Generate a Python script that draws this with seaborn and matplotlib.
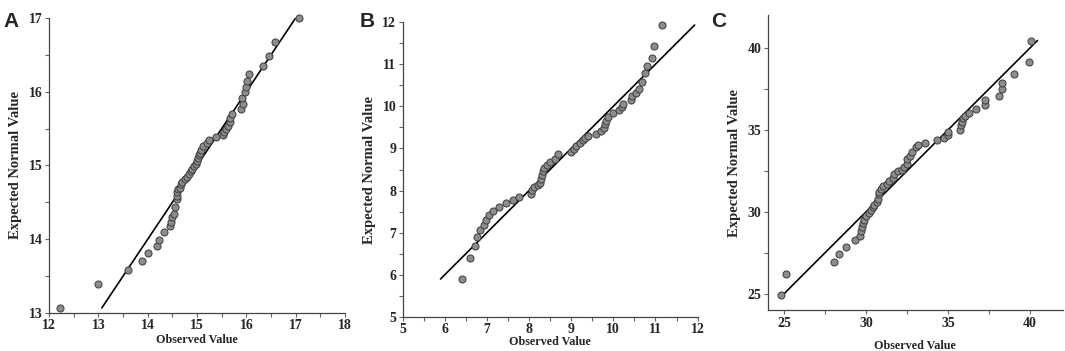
import numpy as np
import pandas as pd
import matplotlib
matplotlib.use('Agg')
import matplotlib.pyplot as plt
import seaborn as sns
from matplotlib.ticker import MultipleLocator

sns.set_style('ticks')
plt.rcParams['font.family'] = ['Liberation Serif', 'DejaVu Serif']

# Panel A
a_obs = [12.23, 13.00, 13.61, 13.88, 14.00, 14.19, 14.23, 14.34, 14.46, 14.48,
         14.49, 14.53, 14.56, 14.59, 14.59, 14.60, 14.61, 14.65, 14.67, 14.70,
         14.75, 14.79, 14.83, 14.87, 14.89, 14.94, 14.97, 14.99, 15.02, 15.05,
         15.06, 15.09, 15.13, 15.21, 15.25, 15.38, 15.52, 15.54, 15.58, 15.63,
         15.66, 15.67, 15.70, 15.90, 15.93, 15.92, 15.97, 16.00, 16.02, 16.06,
         16.34, 16.45, 16.58, 17.06]
a_exp = [13.07, 13.40, 13.58, 13.71, 13.82, 13.91, 13.99, 14.10, 14.18, 14.24,
         14.30, 14.34, 14.44, 14.54, 14.59, 14.64, 14.68, 14.70, 14.75, 14.78,
         14.82, 14.84, 14.88, 14.92, 14.95, 14.99, 15.02, 15.06, 15.10, 15.14,
         15.17, 15.21, 15.26, 15.30, 15.34, 15.38, 15.41, 15.46, 15.50, 15.53,
         15.59, 15.64, 15.70, 15.77, 15.84, 15.92, 15.99, 16.06, 16.14, 16.24,
         16.35, 16.48, 16.67, 17.00]
a_line = [13.07, 17.0]

# Panel B
b_obs = [6.41, 6.60, 6.72, 6.77, 6.84, 6.93, 6.99, 7.06, 7.14, 7.28,
         7.46, 7.61, 7.77, 8.05, 8.07, 8.13, 8.21, 8.25, 8.28, 8.31,
         8.34, 8.36, 8.43, 8.50, 8.62, 8.69, 8.99, 9.07, 9.11, 9.21,
         9.27, 9.32, 9.40, 9.59, 9.70, 9.79, 9.80, 9.83, 9.87, 10.00,
         10.13, 10.21, 10.24, 10.42, 10.44, 10.54, 10.62, 10.67, 10.76, 10.79,
         10.92, 10.96, 11.15]
b_exp = [5.91, 6.41, 6.68, 6.90, 7.06, 7.18, 7.31, 7.41, 7.51, 7.61,
         7.70, 7.78, 7.85, 7.92, 8.02, 8.08, 8.14, 8.19, 8.27, 8.36,
         8.47, 8.54, 8.60, 8.67, 8.76, 8.86, 8.91, 8.98, 9.07, 9.14,
         9.19, 9.25, 9.30, 9.35, 9.41, 9.48, 9.58, 9.66, 9.75, 9.84,
         9.91, 9.98, 10.06, 10.15, 10.24, 10.32, 10.41, 10.59, 10.79, 10.96,
         11.15, 11.43, 11.94]
b_line = [5.90, 11.93]

# Panel C
c_obs = [24.78, 25.08, 28.06, 28.32, 28.79, 29.30, 29.62, 29.66, 29.72, 29.82,
         29.86, 29.99, 30.15, 30.27, 30.39, 30.47, 30.64, 30.70, 30.78, 30.80,
         30.88, 31.02, 31.24, 31.41, 31.61, 31.69, 31.93, 32.16, 32.32, 32.46,
         32.46, 32.68, 32.78, 33.03, 33.17, 33.58, 34.35, 34.73, 34.97, 35.01,
         35.74, 35.78, 35.86, 35.93, 36.05, 36.27, 36.68, 37.24, 37.26, 38.12,
         38.28, 38.30, 39.00, 39.92, 40.04]
c_exp = [24.92, 26.21, 26.92, 27.43, 27.87, 28.24, 28.54, 28.81, 29.05, 29.31,
         29.51, 29.71, 29.92, 30.08, 30.26, 30.42, 30.60, 30.80, 31.05, 31.23,
         31.37, 31.55, 31.71, 31.87, 32.08, 32.28, 32.46, 32.56, 32.72, 32.93,
         33.19, 33.41, 33.65, 33.94, 34.08, 34.20, 34.36, 34.52, 34.66, 34.85,
         35.01, 35.29, 35.49, 35.69, 35.85, 36.02, 36.24, 36.50, 36.79, 37.07,
         37.46, 37.88, 38.40, 39.11, 40.40]
c_line = [24.86, 40.45]

panels = [
    dict(letter='A', obs=a_obs, exp=a_exp, line=a_line,
         rect=[0.046, 0.108, 0.278, 0.841], letter_xy=(0.003, 0.965),
         xlim=(12, 18), ylim=(13, 17), major=1, minor=0.5, xpad=1, xlab_pad=2),
    dict(letter='B', obs=b_obs, exp=b_exp, line=b_line,
         rect=[0.378, 0.097, 0.277, 0.840], letter_xy=(0.338, 0.965),
         xlim=(5, 12), ylim=(5, 12), major=1, minor=0.5, xpad=1, xlab_pad=0),
    dict(letter='C', obs=c_obs, exp=c_exp, line=c_line,
         rect=[0.721, 0.117, 0.277, 0.840], letter_xy=(0.668, 0.965),
         xlim=(24, 42), ylim=(24, 42), major=5, minor=2.5, xpad=2, xlab_pad=7),
]

fig = plt.figure(figsize=(10.65, 3.51), dpi=100)

for p in panels:
    ax = fig.add_axes(p['rect'])
    df = pd.DataFrame({'Observed Value': p['obs'], 'Expected Normal Value': p['exp']})
    ax.plot(p['line'], p['line'], color='black', lw=1.2, zorder=2)
    sns.scatterplot(data=df, x='Observed Value', y='Expected Normal Value', ax=ax,
                    s=26, color='#8c8c8c', edgecolor='#3c3c3c', linewidth=0.7,
                    zorder=3, clip_on=False)
    ax.set_xlim(*p['xlim'])
    ax.set_ylim(*p['ylim'])
    for axis in (ax.xaxis, ax.yaxis):
        axis.set_major_locator(MultipleLocator(p['major']))
        axis.set_minor_locator(MultipleLocator(p['minor']))
    if p['letter'] == 'C':
        ax.set_xticks([25, 30, 35, 40])
        ax.set_yticks([25, 30, 35, 40])
    sns.despine(ax=ax)
    for s in ('left', 'bottom'):
        ax.spines[s].set_color('#444444')
        ax.spines[s].set_linewidth(0.9)
    ax.tick_params(which='both', direction='out', color='#666666', width=0.8, length=3)
    ax.tick_params(axis='y', pad=1.5)
    ax.tick_params(axis='x', pad=p['xpad'])
    for lab in ax.get_xticklabels() + ax.get_yticklabels():
        lab.set_fontsize(10)
        lab.set_fontweight('bold')
    ax.set_xlabel('Observed Value', fontsize=8.7, fontweight='bold', labelpad=p['xlab_pad'])
    ax.set_ylabel('Expected Normal Value', fontsize=10.5, fontweight='bold', labelpad=5)
    fig.text(p['letter_xy'][0], p['letter_xy'][1], p['letter'], fontsize=15,
             fontweight='bold', family=['Liberation Sans', 'DejaVu Sans'], va='top')

fig.savefig('out.png', dpi=100)
